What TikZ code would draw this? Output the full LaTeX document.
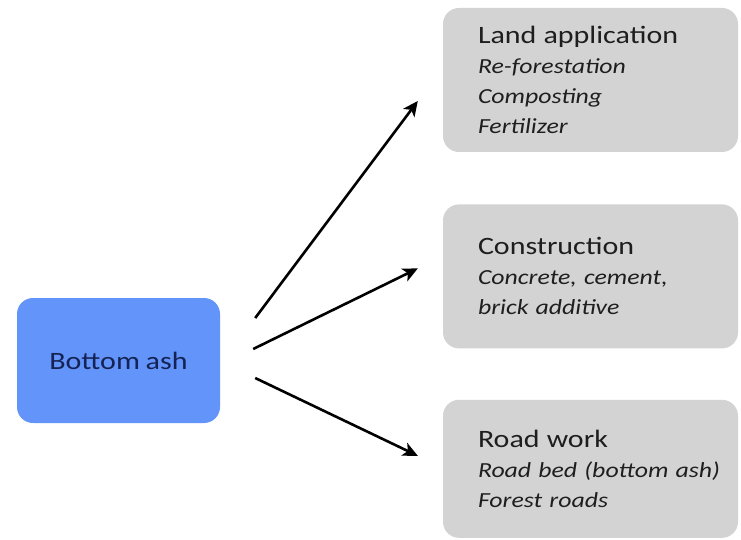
\documentclass[tikz,border=0pt]{standalone}
\usepackage{fontspec}
\setmainfont{Carlito}[FakeStretch=1.2, WordSpace=0.85]
\usetikzlibrary{arrows.meta, positioning, calc}
\definecolor{ashblue}{RGB}{99,148,250}
\definecolor{ashtext}{RGB}{20,34,84}
\definecolor{usegray}{RGB}{211,211,211}
\definecolor{usetext}{RGB}{30,30,30}
\tikzset{
  ashbox/.style={rectangle, fill=ashblue, text=ashtext,
    minimum width=203pt, minimum height=125pt,
    font=\fontsize{25}{29}\selectfont, rounded corners=16pt},
  usebox/.style={rectangle, fill=usegray, text=usetext,
    minimum width=295pt, minimum height=144pt, text width=265pt,
    align=left, inner xsep=0pt, font=\itshape\fontsize{21.5}{30}\selectfont,
    execute at begin node={\leftskip=20pt},
    rounded corners=16pt},
  arrow/.style={-{Stealth[length=15pt, width=14pt, inset=4pt]},
    line width=2.6pt, color=black}
}
\newcommand{\usehead}[1]{{\upshape\fontsize{25}{30}\selectfont #1}}
\begin{document}
\begin{tikzpicture}[x=1pt, y=-1pt]
  \useasboundingbox (0,0) rectangle (741,540);
  \node[ashbox] (ash) at (118.5,360.5) {Bottom ash};
  \node[usebox] (land) at (590.5,80)
    {\usehead{Land application}\\Re-forestation\\Composting\\Fertilizer};
  \node[usebox, below=52pt of land] (constr)
    {\usehead{Construction}\\Concrete, cement,\\brick additive};
  \node[usebox, below=51pt of constr, minimum height=138pt] (road)
    {\usehead{Road work}\\Road bed (bottom ash)\\Forest roads};

  \coordinate (s1) at ($(ash.east)+(35,-42.5)$);
  \coordinate (s2) at ($(ash.east)+(33,-11.5)$);
  \coordinate (s3) at ($(ash.east)+(35,17.5)$);
  \coordinate (e1) at ($(land.west)+(-25,21)$);
  \coordinate (e2) at ($(constr.west)+(-25,-8)$);
  \coordinate (e3) at ($(road.west)+(-25,-13)$);
  \draw[arrow] (s1) -- (e1);
  \draw[arrow] (s2) -- (e2);
  \draw[arrow] (s3) -- (e3);
\end{tikzpicture}
\end{document}
